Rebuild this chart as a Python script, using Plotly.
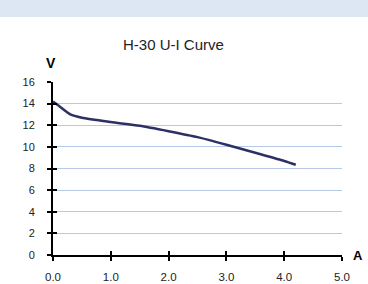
import plotly.graph_objects as go

current_a = [0.0, 0.1, 0.3, 0.5, 1.0, 1.5, 2.0, 2.5, 3.0, 3.5, 4.0, 4.2]
voltage_v = [14.2, 13.8, 13.0, 12.7, 12.3, 11.95, 11.45, 10.9, 10.2, 9.45, 8.7, 8.35]
x_ticks = [0, 1, 2, 3, 4, 5]
x_tick_labels = ["0.0", "1.0", "2.0", "3.0", "4.0", "5.0"]
y_ticks = [0, 2, 4, 6, 8, 10, 12, 14, 16]

W, H = 368, 284
L, R, T, B = 53, 26, 82, 29
pw, ph = W - L - R, H - T - B
FAM = "Liberation Sans, Arial, sans-serif"

fig = go.Figure()
fig.add_trace(go.Scatter(x=current_a, y=voltage_v, mode="lines",
                         line=dict(color="#2b3163", width=2.5, shape="spline", smoothing=0.6),
                         hoverinfo="skip", showlegend=False))
fig.add_trace(go.Scatter(x=[0], y=[0], xaxis="x2", yaxis="y2", mode="markers",
                         marker=dict(opacity=0), showlegend=False, hoverinfo="skip"))

fig.update_layout(
    width=W, height=H,
    margin=dict(l=L, r=R, t=T, b=B, autoexpand=False),
    paper_bgcolor="white", plot_bgcolor="white",
    font=dict(family=FAM, size=11, color="#222222"),
    showlegend=False,
    xaxis=dict(range=[0, 5], tickvals=x_ticks, ticktext=x_tick_labels, automargin=False,
               showgrid=False, zeroline=False, showline=True, linecolor="black", linewidth=2,
               ticks="outside", ticklen=4, tickwidth=2, tickcolor="black",
               tickfont=dict(family=FAM, size=11.5, color="#222222"),
               ticklabelstandoff=6, fixedrange=True),
    yaxis=dict(range=[0, 16], tickvals=y_ticks, automargin=False,
               showgrid=True, gridcolor="#b7c9e6", gridwidth=1, zeroline=False,
               showline=True, linecolor="black", linewidth=2,
               ticks="outside", ticklen=4, tickwidth=2, tickcolor="black",
               tickfont=dict(family=FAM, size=11, color="#222222"),
               ticklabelstandoff=10, fixedrange=True),
    xaxis2=dict(range=[0, 5], tickvals=x_ticks, overlaying="x", anchor="y", side="bottom",
                showticklabels=False, showgrid=False, zeroline=False, showline=False, automargin=False,
                ticks="inside", ticklen=4, tickwidth=2, tickcolor="black"),
    yaxis2=dict(range=[0, 16], tickvals=y_ticks, overlaying="y", anchor="x", side="left",
                showticklabels=False, showgrid=False, zeroline=False, showline=False, automargin=False,
                ticks="inside", ticklen=4, tickwidth=2, tickcolor="black"),
    shapes=[dict(type="rect", xref="paper", yref="paper",
                 x0=-L / pw, x1=1 + R / pw,
                 y0=1 + (T - 17) / ph, y1=1 + T / ph,
                 fillcolor="#dde7f4", line=dict(width=0), layer="above")],
    annotations=[
        dict(text="H-30 U-I Curve", xref="paper", yref="paper",
             x=(173 - L) / pw, y=1 + (T - 44) / ph, xanchor="center", yanchor="middle",
             showarrow=False, font=dict(family=FAM, size=15, color="#222222")),
        dict(text="<b>V</b>", xref="paper", yref="paper",
             x=(51 - L) / pw, y=1 + (T - 63) / ph, xanchor="center", yanchor="middle",
             showarrow=False, font=dict(family=FAM, size=14, color="black")),
        dict(text="<b>A</b>", xref="paper", yref="paper",
             x=(358 - L) / pw, y=0, xanchor="center", yanchor="middle", yshift=0,
             showarrow=False, font=dict(family=FAM, size=13, color="black")),
    ],
)

fig.write_html("out.html", config={"displayModeBar": False},
               post_script="document.body.style.margin='0';document.body.style.overflow='hidden';")
